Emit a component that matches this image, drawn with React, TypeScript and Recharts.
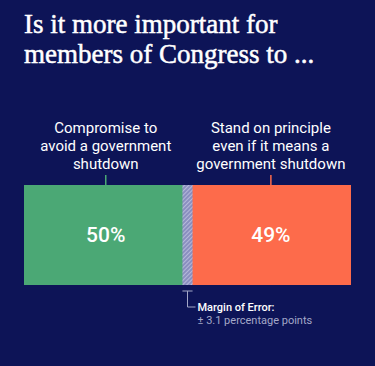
import React from 'react';
import { BarChart, Bar, XAxis, YAxis, ReferenceArea, LabelList } from 'recharts';

const categories = ['Congress'];
const compromise = [50];
const principle = [49];
const marginOfError = 3.1;
const titleLines = ['Is it more important for', 'members of Congress to ...'];
const compromiseLabel = ['Compromise to', 'avoid a government', 'shutdown'];
const principleLabel = ['Stand on principle', 'even if it means a', 'government shutdown'];

const NAVY = '#0d1457';
const GREEN = '#4ba875';
const ORANGE = '#fd6b4b';
const SANS = 'Roboto, "Liberation Sans", sans-serif';

const data = categories.map((c, i) => ({
    name: c,
    compromise: compromise[i],
    gap: 100 - compromise[i] - principle[i],
    principle: principle[i],
}));

const makeLabel = (lines: string[], color: string) => (props: any) => {
    const { x, y, width, height, value } = props;
    const cx = Number(x) + Number(width) / 2;
    const top = Number(y);
    return (
        <g>
            <line x1={cx} x2={cx} y1={top - 10} y2={top} stroke={color} strokeWidth={1.5} />
            <text x={cx} textAnchor="middle" fill="#fff" fontSize={15} fontFamily={SANS}>
                {lines.map((l, i) => (
                    <tspan key={i} x={cx} y={top - 52 + i * 18}>{l}</tspan>
                ))}
            </text>
            <text
                x={cx}
                y={top + Number(height) / 2 + 7}
                textAnchor="middle"
                fill="#fff"
                fontSize={21}
                fontWeight={500}
                fontFamily={SANS}
            >
                {value}%
            </text>
        </g>
    );
};

const MarginShape = (props: any) => {
    const { x, y, width, height } = props;
    const cx = x + width / 2;
    const bottom = y + height;
    return (
        <g>
            <rect x={x} y={y} width={width} height={height} fill="url(#moeHatch)" />
            <line x1={x} x2={x + width} y1={bottom + 6} y2={bottom + 6} stroke="#a4a8c8" strokeWidth={1} />
            <polyline
                points={`${cx},${bottom + 6} ${cx},${bottom + 22} ${cx + 8},${bottom + 22}`}
                fill="none"
                stroke="#a4a8c8"
                strokeWidth={1}
            />
            <text x={cx + 10} y={bottom + 26} fill="#fff" fontSize={11} fontWeight={500} fontFamily={SANS}>
                Margin of Error:
            </text>
            <text x={cx + 10} y={bottom + 39} fill="#a4a8c8" fontSize={11} fontFamily={SANS}>
                ± {marginOfError} percentage points
            </text>
        </g>
    );
};

export default function App() {
    return (
        <div style={{ position: 'fixed', left: 0, top: 0, width: 375, height: 366, background: NAVY }}>
            <div
                style={{
                    position: 'absolute',
                    left: 24,
                    top: 9,
                    color: '#fff',
                    fontFamily: '"Liberation Serif", serif',
                    fontSize: 27,
                    lineHeight: '30px',
                    WebkitTextStroke: '0.5px #fff',
                }}
            >
                {titleLines.map((t, i) => (
                    <div key={i}>{t}</div>
                ))}
            </div>
            <BarChart
                width={375}
                height={366}
                data={data}
                layout="vertical"
                margin={{ top: 185, right: 24, bottom: 81, left: 24 }}
                barCategoryGap={0}
            >
                <defs>
                    <pattern id="moeHatch" width="3" height="3" patternUnits="userSpaceOnUse" patternTransform="rotate(45)">
                        <rect width="3" height="3" fill="#8a8fc0" />
                        <line x1="0" y1="0" x2="0" y2="3" stroke="#c4c7e2" strokeWidth="1.5" />
                    </pattern>
                </defs>
                <XAxis type="number" domain={[0, 100]} hide />
                <YAxis type="category" dataKey="name" hide />
                <Bar dataKey="compromise" stackId="a" fill={GREEN} isAnimationActive={false}>
                    <LabelList dataKey="compromise" content={makeLabel(compromiseLabel, GREEN)} />
                </Bar>
                <Bar dataKey="gap" stackId="a" fill="transparent" isAnimationActive={false} />
                <Bar dataKey="principle" stackId="a" fill={ORANGE} isAnimationActive={false}>
                    <LabelList dataKey="principle" content={makeLabel(principleLabel, ORANGE)} />
                </Bar>
                <ReferenceArea
                    x1={compromise[0] - marginOfError / 2}
                    x2={compromise[0] + marginOfError / 2}
                    shape={MarginShape}
                    ifOverflow="visible"
                    isFront
                    zIndex={1000}
                />
            </BarChart>
        </div>
    );
}
